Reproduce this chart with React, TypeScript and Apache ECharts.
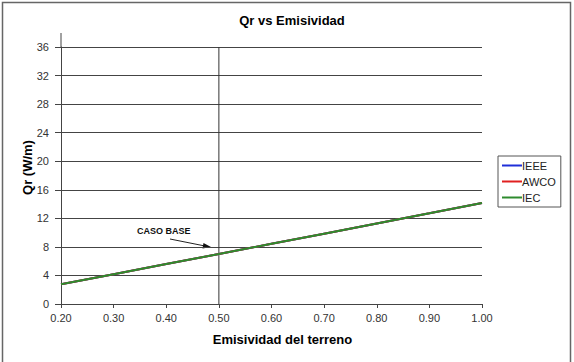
import React, { useEffect, useRef } from "react";
import * as echarts from "echarts";

const emissivity = [0.2, 0.3, 0.4, 0.5, 0.6, 0.7, 0.8, 0.9, 1.0];
const qrIEEE = [2.76, 4.18, 5.6, 7.0, 8.43, 9.85, 11.28, 12.7, 14.15];
const qrAWCO = [2.76, 4.18, 5.6, 7.0, 8.43, 9.85, 11.28, 12.7, 14.15];
const qrIEC = [2.76, 4.18, 5.6, 7.0, 8.43, 9.85, 11.28, 12.7, 14.15];
const baseCaseX = 0.5;
const yTop = 36;
const seriesNames = ["IEEE", "AWCO", "IEC"];
const seriesColors = ["#1f2fd8", "#e02020", "#2e8b2e"];

const FONT = "'Liberation Sans', Arial, sans-serif";

export default function App() {
  const ref = useRef<HTMLDivElement>(null);
  useEffect(() => {
    if (!ref.current) return;
    const chart = echarts.init(ref.current, undefined, { renderer: "svg" });
    const values = [qrIEEE, qrAWCO, qrIEC];
    const lineSeries = seriesNames.map((name, i) => ({
      name,
      type: "line",
      data: emissivity.map((x, j) => [x, values[i][j]]),
      symbol: "none",
      lineStyle: { color: seriesColors[i], width: 2 },
      itemStyle: { color: seriesColors[i] },
      z: 3 + i,
    }));
    chart.setOption({
      animation: false,
      backgroundColor: "#ffffff",
      textStyle: { fontFamily: FONT },
      title: {
        text: "Qr vs Emisividad",
        left: 287,
        top: 9,
        textAlign: "center",
        textStyle: { fontSize: 13, fontWeight: "bold", color: "#000", fontFamily: FONT },
      },
      legend: {
        data: seriesNames,
        orient: "vertical",
        left: 498,
        top: 156,
        width: 63,
        itemWidth: 20,
        itemHeight: 2,
        icon: "rect",
        itemGap: 5,
        padding: [4, 5, 4, 4],
        borderColor: "#555",
        borderWidth: 1,
        textStyle: { fontSize: 11, color: "#222", padding: [0, 0, 0, -5], fontFamily: FONT },
      },
      grid: { left: 61, top: 47, right: 92, bottom: 58, containLabel: false, outerBoundsMode: "none" },
      xAxis: {
        type: "value",
        min: 0.2,
        max: 1.0,
        interval: 0.1,
        name: "Emisividad del terreno",
        nameLocation: "middle",
        nameGap: 29,
        nameMoveOverlap: false,
        nameTextStyle: { fontSize: 13, fontWeight: "bold", color: "#000", fontFamily: FONT, padding: [0, 0, 0, 22] },
        axisLine: { lineStyle: { color: "#444", width: 1 } },
        axisTick: { show: true, inside: false, length: 4, lineStyle: { color: "#444" } },
        axisLabel: {
          fontSize: 11,
          color: "#333",
          margin: 8,
          formatter: (v: number) => v.toFixed(2),
        },
        splitLine: { show: false },
      },
      yAxis: {
        type: "value",
        min: 0,
        max: yTop,
        interval: 4,
        name: "Qr (W/m)",
        nameLocation: "middle",
        nameGap: 27,
        nameRotate: 90,
        nameMoveOverlap: false,
        nameTextStyle: { fontSize: 13, fontWeight: "bold", color: "#000", fontFamily: FONT, padding: [0, 0, 0, 16] },
        axisLine: { show: true, lineStyle: { color: "#444", width: 1 } },
        axisTick: { show: true, inside: false, length: 6, lineStyle: { color: "#444" } },
        axisLabel: { fontSize: 11, color: "#333", margin: 12 },
        splitLine: { show: true, lineStyle: { color: "#444", width: 1 } },
      },
      series: [
        {
          name: "base",
          type: "line",
          data: [
            [baseCaseX, 0],
            [baseCaseX, yTop],
          ],
          symbol: "none",
          lineStyle: { color: "#333", width: 1 },
          z: 2,
          silent: true,
        },
        ...lineSeries,
      ],
      graphic: [
        {
          type: "rect",
          shape: { x: 2.5, y: 2.5, width: 568, height: 380 },
          style: { fill: "none", stroke: "#666", lineWidth: 1.5 },
          silent: true,
        },
        {
          type: "line",
          shape: { x1: 61, y1: 33, x2: 61, y2: 47 },
          style: { stroke: "#444", lineWidth: 1 },
          silent: true,
        },
        {
          type: "text",
          x: 137,
          y: 226,
          style: {
            text: "CASO BASE",
            font: "bold 9px 'Liberation Sans Narrow', 'Arial Narrow', 'Liberation Sans', sans-serif",
            fill: "#111",
          },
        },
        {
          type: "line",
          shape: { x1: 170, y1: 239, x2: 205, y2: 246 },
          style: { stroke: "#222", lineWidth: 1 },
        },
        {
          type: "polygon",
          shape: { points: [[211, 247], [203.5, 243], [202.5, 248.5]] },
          style: { fill: "#111" },
        },
      ],
    });
    return () => chart.dispose();
  }, []);
  return (
    <div
      ref={ref}
      style={{ position: "fixed", left: 0, top: 0, width: 574, height: 362, background: "#fff" }}
    />
  );
}
